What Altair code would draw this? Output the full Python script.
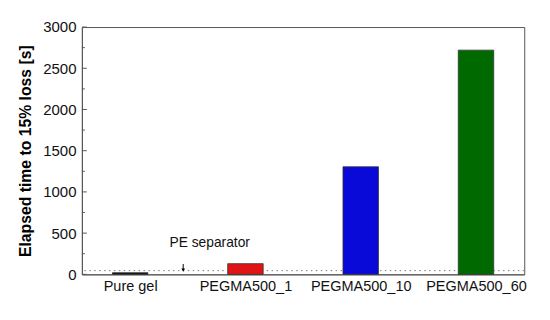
import altair as alt
import pandas as pd

categories = ["Pure gel", "PEGMA500_1", "PEGMA500_10", "PEGMA500_60"]
positions = [1, 2, 3, 4]
values = [20, 130, 1305, 2720]
colors = ["#111111", "#e01414", "#0a0ad8", "#006a00"]

pe_level = [45]
major_ticks = [0, 500, 1000, 1500, 2000, 2500, 3000]
minor_ticks = [250, 750, 1250, 1750, 2250, 2750]

annot_x = [1.46]
arrow_top = [125]
arrow_bottom = [52]
label_x = [1.69]
label_y = [385]

bars = pd.DataFrame({"cat": categories, "pos": positions, "val": values, "col": colors})

x_scale = alt.Scale(domain=[0.624, 4.376], nice=False, zero=False)
y_scale = alt.Scale(domain=[0, 3000], nice=False)

label_expr = " : ".join(
    [f"datum.value == {p} ? '{c}'" for p, c in zip(positions, categories)]
) + " : ''"

x_axis = alt.Axis(values=positions, labelExpr=label_expr, title=None, ticks=False,
                  grid=False, labelFontSize=14.7, labelPadding=4, labelColor="#111",
                  domainColor="#555", labelFont="Liberation Sans")
y_axis = alt.Axis(values=major_ticks, format="d", title="Elapsed time to 15% loss [s]", ticks=False,
                  grid=False, labelFontSize=15.2, labelPadding=6, labelColor="#111",
                  domainColor="#555", labelFont="Liberation Sans",
                  titleFont="Liberation Sans", titleFontSize=16, titleFontWeight="bold",
                  titleColor="#000", titlePadding=9)

bar_layer = alt.Chart(bars).mark_bar(size=36, stroke="#333", strokeWidth=0.8).encode(
    x=alt.X("pos:Q", scale=x_scale, axis=x_axis),
    y=alt.Y("val:Q", scale=y_scale, axis=y_axis),
    fill=alt.Fill("col:N", scale=None),
)

pe_line = alt.Chart(pd.DataFrame({"y": pe_level})).mark_rule(
    color="#777", strokeDash=[1.5, 3.5], strokeWidth=1
).encode(y=alt.Y("y:Q", scale=y_scale))

arrow_df = pd.DataFrame({"x": annot_x, "y": arrow_top, "y2": arrow_bottom})
arrow_line = alt.Chart(arrow_df).mark_rule(color="#000", strokeWidth=1).encode(
    x=alt.X("x:Q", scale=x_scale), y=alt.Y("y:Q", scale=y_scale), y2="y2:Q"
)
arrow_head = alt.Chart(arrow_df).mark_point(
    shape="triangle-down", filled=True, color="#000", size=14, opacity=1
).encode(x=alt.X("x:Q", scale=x_scale), y=alt.Y("y2:Q", scale=y_scale))

label = alt.Chart(pd.DataFrame({"x": label_x, "y": label_y, "t": ["PE separator"]})).mark_text(
    fontSize=14, font="Liberation Sans", color="#111", align="center", baseline="middle"
).encode(x=alt.X("x:Q", scale=x_scale), y=alt.Y("y:Q", scale=y_scale), text="t:N")

major = alt.Chart(pd.DataFrame({"y": major_ticks})).mark_rule(color="#555", strokeWidth=1).encode(
    x=alt.value(0), x2=alt.value(5), y=alt.Y("y:Q", scale=y_scale)
)
minor = alt.Chart(pd.DataFrame({"y": minor_ticks})).mark_rule(color="#555", strokeWidth=1).encode(
    x=alt.value(0), x2=alt.value(3), y=alt.Y("y:Q", scale=y_scale)
)

chart = alt.layer(pe_line, bar_layer, arrow_line, arrow_head, label, major, minor).properties(
    width=449, height=251,
    autosize=alt.AutoSizeParams(type="none"),
    padding={"left": 75, "top": 17, "right": 18, "bottom": 44},
    background="white",
).configure_view(stroke="#555", strokeWidth=1)

chart.save("out.html", embed_options={"renderer": "svg", "actions": False})
